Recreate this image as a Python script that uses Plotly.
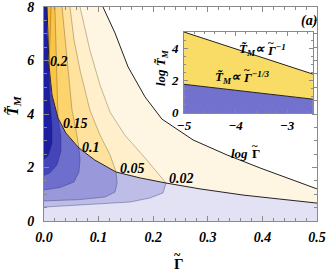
import plotly.graph_objects as go

# ---------------- data ----------------
# outer (upper) boundary curve  T_M ~ Gamma^-1 regime
outer_G = [0.108, 0.130, 0.154, 0.185, 0.216, 0.244, 0.273, 0.335, 0.396, 0.456, 0.5]
outer_T = [8.0, 7.03, 5.76, 4.64, 3.81, 3.44, 3.03, 2.47, 1.98, 1.53, 1.20]

# lower boundary curve (yellow / blue border), from top to right
lower_G = [0.0055, 0.0073, 0.0092, 0.0147, 0.0256, 0.040, 0.064, 0.093, 0.132, 0.176, 0.2234, 0.2857, 0.3645, 0.432, 0.5]
lower_T = [8.0, 6.77, 5.79, 4.71, 3.85, 3.29, 2.73, 2.28, 1.83, 1.61, 1.42, 1.20, 0.97, 0.82, 0.67]

levels = [0.02, 0.05, 0.1, 0.15, 0.2]
level_labels = ["0.02", "0.05", "0.1", "0.15", "0.2"]

# yellow-side contours: from top edge down to junction on the lower boundary
yel_G = {
    0.02: [0.066, 0.084, 0.1026, 0.121, 0.148, 0.185, 0.2234],
    0.05: [0.0476, 0.055, 0.066, 0.084, 0.1026, 0.121, 0.132],
    0.1:  [0.033, 0.0385, 0.044, 0.0513, 0.0586, 0.064],
    0.15: [0.020, 0.022, 0.024, 0.0256],
    0.2:  [0.013, 0.011, 0.0092],
}
yel_T = {
    0.02: [8.0, 6.39, 5.08, 4.07, 3.21, 2.36, 1.42],
    0.05: [8.0, 6.77, 5.64, 4.15, 3.21, 2.47, 1.83],
    0.1:  [8.0, 6.77, 5.64, 4.15, 3.40, 2.73],
    0.15: [8.0, 6.77, 5.27, 3.85],
    0.2:  [8.0, 6.90, 5.79],
}
# blue-side contours: from junction down and left to the left edge
blu_G = {
    0.02: [0.2234, 0.218, 0.194, 0.1575, 0.066, 0.0],
    0.05: [0.132, 0.134, 0.130, 0.112, 0.066, 0.0],
    0.1:  [0.064, 0.066, 0.064, 0.055, 0.0293, 0.0],
    0.15: [0.0256, 0.031, 0.031, 0.024, 0.011, 0.0],
    0.2:  [0.0092, 0.011, 0.0147, 0.0147, 0.008, 0.0],
}
blu_T = {
    0.02: [1.42, 1.05, 0.86, 0.71, 0.60, 0.52],
    0.05: [1.83, 1.42, 1.08, 0.90, 0.80, 0.75],
    0.1:  [2.73, 2.28, 1.83, 1.46, 1.25, 1.16],
    0.15: [3.85, 3.21, 2.60, 2.10, 1.80, 1.70],
    0.2:  [5.79, 4.52, 3.60, 2.90, 2.45, 2.30],
}

# inset: log-log regimes
inset_x = [-5.0, -2.5]
inset_upper = [5.0, 2.4]     # T_M ~ Gamma^-1
inset_lower = [1.77, 0.85]   # T_M ~ Gamma^-1/3

# ---------------- styles ----------------
yel_colors = {0.02: "#FFEFCB", 0.05: "#FEE29E", 0.1: "#FDD36E", 0.15: "#FBC447", 0.2: "#F8B52A"}
blu_colors = {0.02: "#BDBDE8", 0.05: "#9898DB", 0.1: "#6E6ECC", 0.15: "#4545BA", 0.2: "#1E1EA2"}
cream = "#FFF5E3"
lavender = "#E2E2F4"
FONT = "Liberation Serif"
GRID = "#8a8a8a"
TT = "T\u0303"   # T with tilde

W, H = 327, 273
ML, MR, MT, MB = 44, 10, 7, 52
PW, PH = W - ML - MR, H - MT - MB

fig = go.Figure()


def poly(xs, ys, color):
    fig.add_trace(go.Scatter(x=xs, y=ys, fill="toself", fillcolor=color, mode="lines",
                             line=dict(width=0), hoverinfo="skip", showlegend=False,
                             xaxis="x", yaxis="y"))


def line(xs, ys, color, width):
    fig.add_trace(go.Scatter(x=xs, y=ys, mode="lines", line=dict(color=color, width=width),
                             hoverinfo="skip", showlegend=False, xaxis="x", yaxis="y"))


def lower_above(Tj):
    """lower-boundary points above the junction (forward order: top -> junction)"""
    return ([g for g, t in zip(lower_G, lower_T) if t > Tj + 1e-9],
            [t for t in lower_T if t > Tj + 1e-9])


Tmax = 8.0
# base lavender region (below lower boundary)
poly([0.0] + lower_G + [0.5, 0.0], [Tmax] + lower_T + [0.0, 0.0], lavender)

# blue nested regions
for L in levels:
    gA, tA = lower_above(blu_T[L][0])
    poly(blu_G[L] + [0.0] + gA, blu_T[L] + [Tmax] + tA, blu_colors[L])

# cream region between lower boundary and outer curve
poly(lower_G + outer_G[::-1], lower_T + outer_T[::-1], cream)

# yellow nested regions
for L in levels:
    gA, tA = lower_above(yel_T[L][-1])
    poly(yel_G[L] + gA[::-1], yel_T[L] + tA[::-1], yel_colors[L])

# contour lines
for L in levels:
    line(yel_G[L], yel_T[L], "rgba(90,70,30,0.45)", 0.8)
    line(blu_G[L], blu_T[L], "rgba(40,40,90,0.45)", 0.8)
line(lower_G, lower_T, "#222", 1.0)
line(outer_G, outer_T, "#222", 1.0)

# inset
fig.add_trace(go.Scatter(x=inset_x + inset_x[::-1], y=[0, 0] + inset_lower[::-1], fill="toself",
                         fillcolor="#7272CE", mode="lines", line=dict(width=0),
                         hoverinfo="skip", showlegend=False, xaxis="x2", yaxis="y2"))
fig.add_trace(go.Scatter(x=inset_x + inset_x[::-1], y=inset_lower + inset_upper[::-1], fill="toself",
                         fillcolor="#F9DC66", mode="lines", line=dict(width=0),
                         hoverinfo="skip", showlegend=False, xaxis="x2", yaxis="y2"))
for ys in (inset_lower, inset_upper):
    fig.add_trace(go.Scatter(x=inset_x, y=ys, mode="lines", line=dict(color="#222", width=1),
                             hoverinfo="skip", showlegend=False, xaxis="x2", yaxis="y2"))

tickfont = dict(family=FONT, size=14, color="black", weight="bold", style="italic")
tickfont2 = dict(family=FONT, size=13, color="black", weight="bold", style="italic")

axis_common = dict(showgrid=False, zeroline=False, showline=True, linecolor=GRID, linewidth=1,
                   mirror="allticks", ticks="inside", tickcolor=GRID, automargin=False,
                   ticklabeloverflow="allow")

fig.update_layout(
    width=W, height=H,
    margin=dict(l=ML, r=MR, t=MT, b=MB),
    paper_bgcolor="white", plot_bgcolor="white",
    xaxis=dict(domain=[0, 1], range=[0, 0.5], tickvals=[0, 0.1, 0.2, 0.3, 0.4, 0.5],
               ticktext=["0.0", "0.1", "0.2", "0.3", "0.4", "0.5"], tickfont=tickfont, ticklen=5,
               minor=dict(dtick=0.02, ticks="inside", ticklen=3, tickcolor=GRID),
               ticklabelstandoff=3, **axis_common),
    yaxis=dict(domain=[0, 1], range=[0, 8], tickvals=[0, 2, 4, 6, 8], tickfont=tickfont, ticklen=5,
               minor=dict(dtick=0.5, ticks="inside", ticklen=3, tickcolor=GRID),
               ticklabelstandoff=6, **axis_common),
    xaxis2=dict(domain=[0.513, 0.985], range=[-5, -2.5], tickvals=[-5, -4, -3], anchor="y2",
                tickfont=tickfont2, ticklen=4,
                minor=dict(dtick=0.2, ticks="inside", ticklen=2, tickcolor=GRID),
                ticklabelstandoff=0, **axis_common),
    yaxis2=dict(domain=[0.505, 0.883], range=[0, 5], tickvals=[0, 2, 4], anchor="x2",
                tickfont=tickfont2, ticklen=4,
                minor=dict(dtick=0.5, ticks="inside", ticklen=2, tickcolor=GRID),
                ticklabelstandoff=2, **axis_common),
)


def px(xp, yp):
    """pixel position -> paper coordinates"""
    return (xp - ML) / PW, (H - MB - yp) / PH


def text_at(xp, yp, txt, size, xanchor="center", angle=0, italic=True):
    x, y = px(xp, yp)
    f = dict(family=FONT, size=size, color="black", weight="bold")
    if italic:
        f["style"] = "italic"
    fig.add_annotation(x=x, y=y, xref="paper", yref="paper", text=txt, showarrow=False,
                       xanchor=xanchor, yanchor="middle", textangle=angle, borderpad=0,
                       font=f)


def gamma_tilde(xp_left, yp, size, sup="", italic=True, lift=0.62):
    """Gamma with a tilde above it, starting at pixel xp_left"""
    text_at(xp_left, yp, "Γ" + (("<sup>" + sup + "</sup>") if sup else ""), size, "left", italic=italic)
    text_at(xp_left + 0.33 * size + (1 if italic else 0), yp - lift * size, "~", int(size * 0.85), "center",
            italic=False)


ann_font = dict(family=FONT, size=14, color="black", weight="bold", style="italic")
label_pos = {0.2: (0.0075, 5.95), 0.15: (0.031, 3.66), 0.1: (0.066, 2.73),
             0.05: (0.1355, 1.98), 0.02: (0.2253, 1.60)}
for L, txt in zip(levels, level_labels):
    x, y = label_pos[L]
    fig.add_annotation(x=x, y=y, xref="x", yref="y", text=txt, showarrow=False,
                       xanchor="left", yanchor="middle", font=ann_font)

# main axis titles
gamma_tilde(173, 264, 15, italic=False, lift=0.58)
text_at(13, 106, TT + "<sub>M</sub>", 16, angle=-90)
text_at(309, 21, "(a)", 14)

# inset axis titles
text_at(249, 153, "log", 13, "right")
gamma_tilde(251, 153, 13, italic=False)
text_at(161, 68, "log " + TT + "<sub>M</sub>", 13, angle=-90)

# inset formulas
text_at(266, 50, TT + "<sub>M</sub>∝", 13, "right")
gamma_tilde(266, 50, 13, sup="−1")
text_at(242, 77, TT + "<sub>M</sub>∝", 13, "right")
gamma_tilde(242, 77, 13, sup="−1/3")

# the page's default body margin would shift the figure; remove it
fig.write_html("out.html", config={"displayModeBar": False},
               post_script="document.body.style.margin='0';")
